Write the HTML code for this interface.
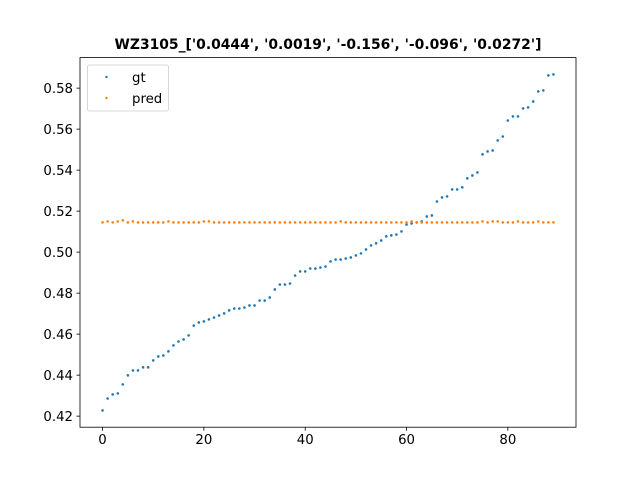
<!DOCTYPE html>
<html><head><meta charset="utf-8"><style>
html,body{margin:0;padding:0;background:#fff;}
svg{display:block;font-family:"DejaVu Sans","Liberation Sans",sans-serif;}
</style></head><body>
<svg id="chart" width="640" height="480">
<rect x="0" y="0" width="640" height="480" fill="#fff"/>
<text x="328" y="49" text-anchor="middle" font-size="13.9" font-weight="bold">WZ3105_['0.0444', '0.0019', '-0.156', '-0.096', '0.0272']</text>
<g id="marks"></g>
<g id="axes"></g>
<rect x="80" y="57.6" width="496" height="369.6" fill="none" stroke="#000" stroke-width="0.8"/>
<g>
<rect x="87.5" y="65" width="81" height="46" rx="2" fill="#fff" fill-opacity="0.8" stroke="#ccc" stroke-width="0.8"/>
<circle cx="106.5" cy="77" r="1.2" fill="#1f77b4"/>
<text x="132" y="82" font-size="13.3">gt</text>
<circle cx="106.5" cy="98" r="1.2" fill="#ff7f0e"/>
<text x="132" y="103" font-size="13.3">pred</text>
</g>
</svg>
<script>
const gtValues=[.4228,.4286,.4306,.4311,.4355,.4399,.4423,.4423,.4438,.4438,.4472,.4491,.4496,.4516,.4545,.4564,.4574,.4594,.4642,.4657,.4662,.4672,.4681,.4691,.4701,.4716,.4725,.4725,.4730,.4740,.4740,.4764,.4764,.4779,.4818,.4842,.4842,.4847,.4886,.4906,.4906,.4920,.4920,.4925,.4930,.4955,.4964,.4964,.4969,.4974,.4984,.4994,.5013,.5033,.5043,.5057,.5077,.5082,.5086,.5101,.5135,.5140,.5145,.5150,.5174,.5179,.5247,.5267,.5272,.5306,.5306,.5316,.5360,.5374,.5389,.5477,.5491,.5496,.5545,.5564,.5642,.5662,.5662,.5701,.5706,.5735,.5784,.5789,.5862,.5867];
const predValues=[.5145,.515,.5145,.515,.5155,.5145,.515,.5145,.5145,.5145,.5145,.5145,.5145,.515,.5145,.5145,.5145,.5145,.5145,.5145,.515,.515,.5145,.5145,.5145,.5145,.5145,.5145,.5145,.5145,.5145,.5145,.5145,.5145,.5145,.5145,.5145,.5145,.5145,.5145,.5145,.5145,.5145,.5145,.5145,.5145,.5145,.515,.5145,.5145,.5145,.5145,.5145,.5145,.5145,.5145,.5145,.5145,.5145,.5145,.5145,.515,.5145,.5145,.5145,.5145,.5145,.5145,.5145,.5145,.5145,.5145,.5145,.5145,.5145,.515,.5145,.515,.515,.5145,.5145,.5145,.515,.5145,.5145,.5145,.515,.5145,.5145,.5145];
const xTicks=[0,20,40,60,80];
const yTicks=[0.42,0.44,0.46,0.48,0.50,0.52,0.54,0.56,0.58];
const NS="http://www.w3.org/2000/svg";
const L=80,R=576,T=57.6,B=427.2;
const n=gtValues.length;
const all=gtValues.concat(predValues);
const ymin=Math.min(...all),ymax=Math.max(...all);
const xlo=-(n-1)*0.05,xhi=(n-1)*1.05;
const ylo=ymin-(ymax-ymin)*0.05,yhi=ymax+(ymax-ymin)*0.05;
function sx(v){return L+(v-xlo)/(xhi-xlo)*(R-L);}
function sy(v){return B-(v-ylo)/(yhi-ylo)*(B-T);}
const marks=document.getElementById('marks');
const axes=document.getElementById('axes');
function dot(x,y,c,name){const e=document.createElementNS(NS,'circle');e.setAttribute('cx',x);e.setAttribute('cy',y);e.setAttribute('r',1.3);e.setAttribute('fill',c);


marks.appendChild(e);}
gtValues.forEach((v,i)=>dot(sx(i),sy(v),'#1f77b4','gt-point'));
predValues.forEach((v,i)=>dot(sx(i),sy(v),'#ff7f0e','pred-point'));
xTicks.forEach(t=>{const x=sx(t);
const l=document.createElementNS(NS,'line');l.setAttribute('x1',x);l.setAttribute('x2',x);l.setAttribute('y1',B);l.setAttribute('y2',B+3.5);l.setAttribute('stroke','#000');l.setAttribute('stroke-width','0.8');


axes.appendChild(l);
const tx=document.createElementNS(NS,'text');tx.setAttribute('x',x);tx.setAttribute('y',B+17);tx.setAttribute('text-anchor','middle');tx.setAttribute('font-size','13.3');tx.textContent=t;


axes.appendChild(tx);});
yTicks.forEach(t=>{const y=sy(t);
const l=document.createElementNS(NS,'line');l.setAttribute('x1',L-3.5);l.setAttribute('x2',L);l.setAttribute('y1',y);l.setAttribute('y2',y);l.setAttribute('stroke','#000');l.setAttribute('stroke-width','0.8');


axes.appendChild(l);
const tx=document.createElementNS(NS,'text');tx.setAttribute('x',L-7);tx.setAttribute('y',y+5);tx.setAttribute('text-anchor','end');tx.setAttribute('font-size','13.3');tx.textContent=t.toFixed(2);


axes.appendChild(tx);});
</script>
</body></html>
